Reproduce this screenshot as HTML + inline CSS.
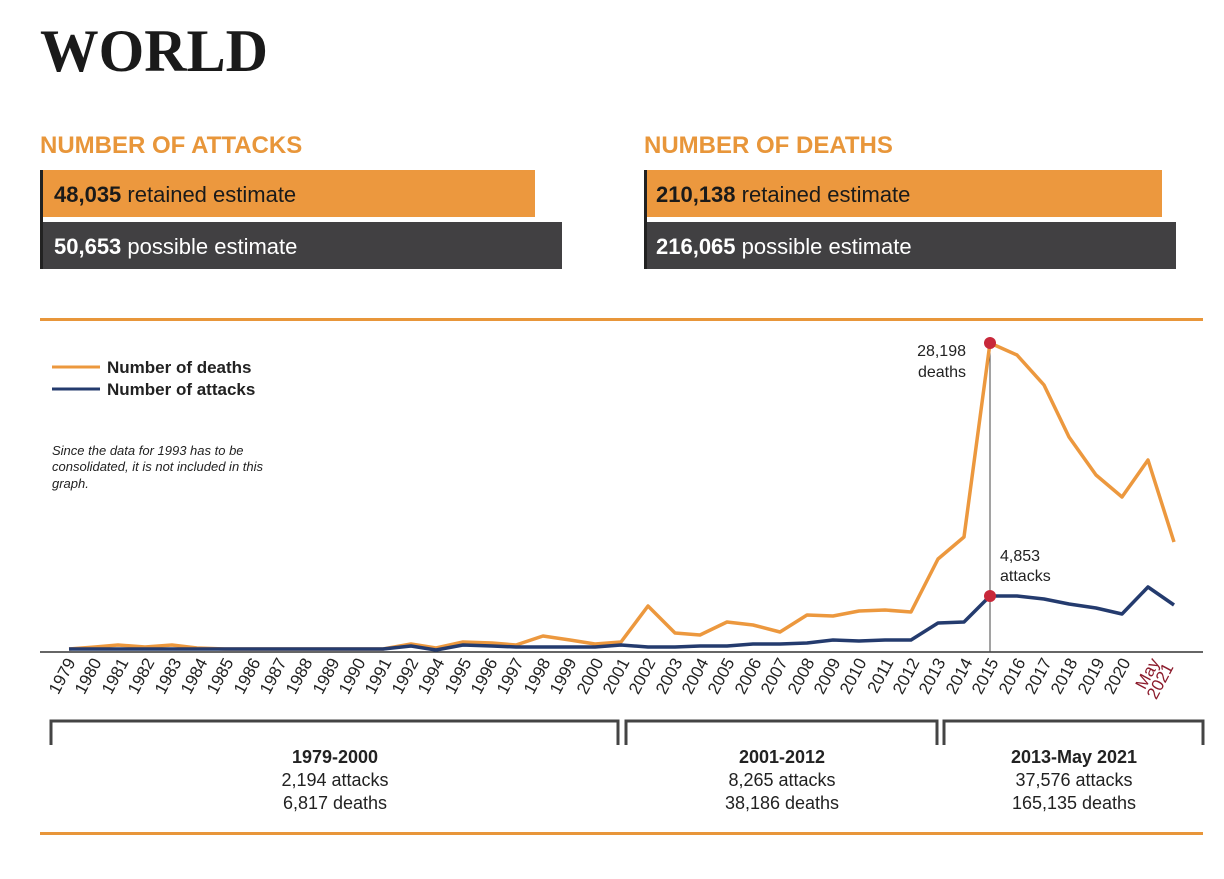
<!DOCTYPE html>
<html><head><meta charset="utf-8"><style>
body{margin:0;width:1224px;height:874px;background:#fff;overflow:hidden;font-family:"Liberation Sans",sans-serif;}
</style></head><body>
<svg width="1224" height="874" xmlns="http://www.w3.org/2000/svg" font-family="Liberation Sans, sans-serif">
<text x="40" y="71" font-family="Liberation Serif, serif" font-weight="bold" font-size="60" fill="#1a1a1a" textLength="228" lengthAdjust="spacingAndGlyphs">WORLD</text>
<text x="40" y="153" font-size="24" font-weight="bold" fill="#E8963A">NUMBER OF ATTACKS</text>
<text x="644" y="153" font-size="24" font-weight="bold" fill="#E8963A">NUMBER OF DEATHS</text>
<rect x="40" y="170" width="495" height="47" fill="#EC983E"/>
<rect x="40" y="222" width="522" height="47" fill="#414042"/>
<rect x="40" y="170" width="3" height="99" fill="#222"/>
<rect x="644" y="170" width="518" height="47" fill="#EC983E"/>
<rect x="644" y="222" width="532" height="47" fill="#414042"/>
<rect x="644" y="170" width="3" height="99" fill="#222"/>
<text x="54" y="202" font-size="22" fill="#1a1a1a"><tspan font-weight="bold">48,035</tspan> retained estimate</text>
<text x="54" y="254" font-size="22" fill="#fff"><tspan font-weight="bold">50,653</tspan> possible estimate</text>
<text x="656" y="202" font-size="22" fill="#1a1a1a"><tspan font-weight="bold">210,138</tspan> retained estimate</text>
<text x="656" y="254" font-size="22" fill="#fff"><tspan font-weight="bold">216,065</tspan> possible estimate</text>
<rect x="40" y="318" width="1163" height="3" fill="#E8963A"/>
<rect x="40" y="832" width="1163" height="3" fill="#E8963A"/>
<line x1="52" y1="367" x2="100" y2="367" stroke="#EC983E" stroke-width="3"/>
<line x1="52" y1="389" x2="100" y2="389" stroke="#243B6E" stroke-width="3"/>
<text x="107" y="373" font-size="17" font-weight="bold" fill="#222">Number of deaths</text>
<text x="107" y="395" font-size="17" font-weight="bold" fill="#222">Number of attacks</text>
<g font-size="13" font-style="italic" fill="#222"><text x="52" y="455">Since the data for 1993 has to be</text><text x="52" y="471">consolidated, it is not included in this</text><text x="52" y="488">graph.</text></g>
<line x1="40" y1="652" x2="1203" y2="652" stroke="#333" stroke-width="1.5"/>
<line x1="990" y1="343" x2="990" y2="652" stroke="#444" stroke-width="1"/>
<polyline fill="none" stroke="#EC983E" stroke-width="3.5" stroke-linejoin="round" points="69,649 95,647 118,645 145,647 172,645 197,648 225,649 250,649 277,649 303,649 330,649 356,649 383,649 411,644 436,648 463,642 492,643 516,645 543,636 570,640 595,644 621,642 648,606 675,633 700,635 727,622 753,625 780,632 807,615 833,616 859,611 885,610 911,612 938,559 964,537 990,343 1017,355 1044,385 1069,437 1096,475 1122,497 1148,460 1174,542"/>
<polyline fill="none" stroke="#243B6E" stroke-width="3.5" stroke-linejoin="round" points="69,649 95,649 118,649 145,649 172,649 197,649 225,649 250,649 277,649 303,649 330,649 356,649 383,649 411,646 436,650 463,645 492,646 516,647 543,647 570,647 595,647 621,645 648,647 675,647 700,646 727,646 753,644 780,644 807,643 833,640 859,641 885,640 911,640 938,623 964,622 990,596 1017,596 1044,599 1069,604 1096,608 1122,614 1148,587 1174,605"/>
<circle cx="990" cy="343" r="6" fill="#C8283A"/>
<circle cx="990" cy="596" r="6" fill="#C8283A"/>
<g font-size="16" fill="#222"><text x="966" y="356" text-anchor="end">28,198</text><text x="966" y="377" text-anchor="end">deaths</text>
<text x="1000" y="561">4,853</text><text x="1000" y="581">attacks</text></g>
<g font-size="17" fill="#222" text-anchor="end">
<text transform="translate(76,662) rotate(-62)">1979</text>
<text transform="translate(102,662) rotate(-62)">1980</text>
<text transform="translate(129,662) rotate(-62)">1981</text>
<text transform="translate(155,662) rotate(-62)">1982</text>
<text transform="translate(182,662) rotate(-62)">1983</text>
<text transform="translate(208,662) rotate(-62)">1984</text>
<text transform="translate(234,662) rotate(-62)">1985</text>
<text transform="translate(261,662) rotate(-62)">1986</text>
<text transform="translate(287,662) rotate(-62)">1987</text>
<text transform="translate(313,662) rotate(-62)">1988</text>
<text transform="translate(340,662) rotate(-62)">1989</text>
<text transform="translate(366,662) rotate(-62)">1990</text>
<text transform="translate(392,662) rotate(-62)">1991</text>
<text transform="translate(419,662) rotate(-62)">1992</text>
<text transform="translate(445,662) rotate(-62)">1994</text>
<text transform="translate(472,662) rotate(-62)">1995</text>
<text transform="translate(498,662) rotate(-62)">1996</text>
<text transform="translate(524,662) rotate(-62)">1997</text>
<text transform="translate(551,662) rotate(-62)">1998</text>
<text transform="translate(577,662) rotate(-62)">1999</text>
<text transform="translate(604,662) rotate(-62)">2000</text>
<text transform="translate(630,662) rotate(-62)">2001</text>
<text transform="translate(656,662) rotate(-62)">2002</text>
<text transform="translate(683,662) rotate(-62)">2003</text>
<text transform="translate(709,662) rotate(-62)">2004</text>
<text transform="translate(735,662) rotate(-62)">2005</text>
<text transform="translate(762,662) rotate(-62)">2006</text>
<text transform="translate(788,662) rotate(-62)">2007</text>
<text transform="translate(815,662) rotate(-62)">2008</text>
<text transform="translate(841,662) rotate(-62)">2009</text>
<text transform="translate(867,662) rotate(-62)">2010</text>
<text transform="translate(894,662) rotate(-62)">2011</text>
<text transform="translate(920,662) rotate(-62)">2012</text>
<text transform="translate(946,662) rotate(-62)">2013</text>
<text transform="translate(973,662) rotate(-62)">2014</text>
<text transform="translate(999,662) rotate(-62)">2015</text>
<text transform="translate(1026,662) rotate(-62)">2016</text>
<text transform="translate(1052,662) rotate(-62)">2017</text>
<text transform="translate(1078,662) rotate(-62)">2018</text>
<text transform="translate(1105,662) rotate(-62)">2019</text>
<text transform="translate(1131,662) rotate(-62)">2020</text>
<text transform="translate(1160,662) rotate(-62)" fill="#8B1A2B">May</text>
<text transform="translate(1174,667) rotate(-62)" fill="#8B1A2B">2021</text>
</g>
<g fill="none" stroke="#444" stroke-width="3">
<polyline points="51,745 51,721 618,721 618,745"/>
<polyline points="626,745 626,721 937,721 937,745"/>
<polyline points="944,745 944,721 1203,721 1203,745"/>
</g>
<g font-size="18" fill="#222" text-anchor="middle">
<text x="335" y="763" font-weight="bold">1979-2000</text><text x="335" y="786">2,194 attacks</text><text x="335" y="809">6,817 deaths</text>
<text x="782" y="763" font-weight="bold">2001-2012</text><text x="782" y="786">8,265 attacks</text><text x="782" y="809">38,186 deaths</text>
<text x="1074" y="763" font-weight="bold">2013-May 2021</text><text x="1074" y="786">37,576 attacks</text><text x="1074" y="809">165,135 deaths</text>
</g>
</svg>
</body></html>
